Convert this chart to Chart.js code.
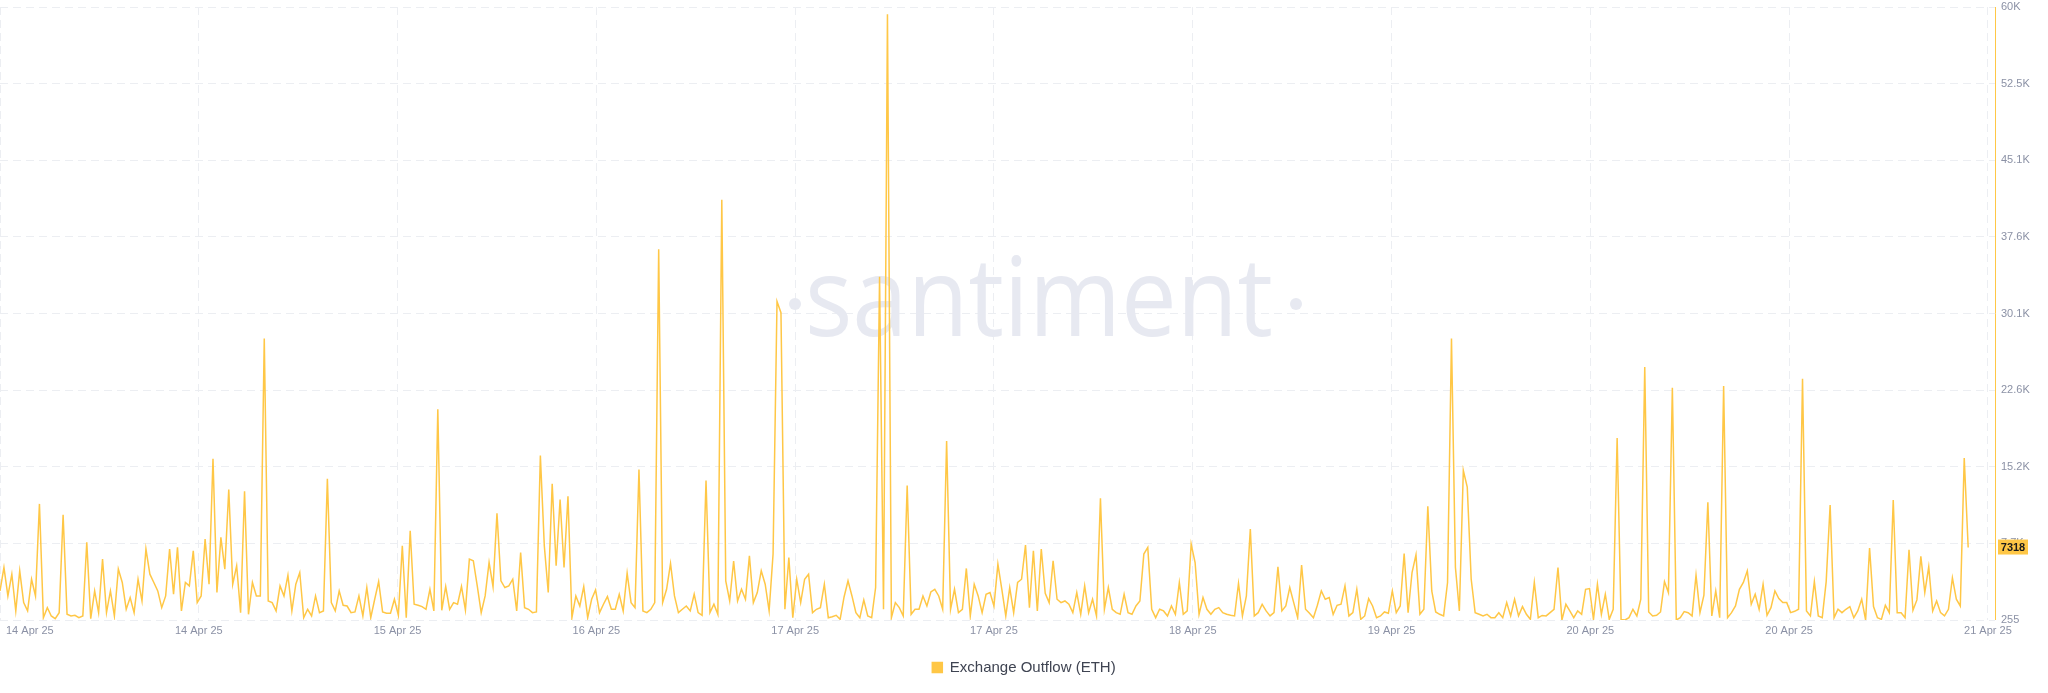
<!DOCTYPE html>
<html>
<head>
<meta charset="utf-8">
<title>Exchange Outflow (ETH)</title>
<script src="https://cdn.jsdelivr.net/npm/chart.js@4"></script>
<style>
    html, body { margin: 0; padding: 0; background: #ffffff; }
    #wrap { position: relative; width: 2048px; height: 693px; }
</style>
</head>
<body>
<div id="wrap"><canvas id="outflow-chart"></canvas></div>
<script>
// 20-minute samples, 14 Apr 25 -> 21 Apr 25
const outflow = [
    3090, 5370, 2600, 4720, 1140, 5050, 1950, 1140, 4230, 2600,
    11570, 480, 1460, 650, 390, 970, 10520, 810, 650, 710,
    480, 650, 7820, 390, 3090, 970, 6190, 970, 3090, 650,
    5210, 3910, 1300, 2440, 970, 4230, 2110, 7170, 4720, 3910,
    3090, 1460, 2600, 7170, 2765, 7330, 1140, 3910, 3580, 7000,
    1950, 2600, 8140, 3740, 15970, 2930, 8310, 5210, 12970, 3740,
    5540, 970, 12810, 810, 3910, 2600, 2600, 27680, 2110, 1950,
    1140, 3580, 2600, 4620, 1140, 3740, 4880, 480, 1300, 650,
    2600, 970, 1140, 14010, 1950, 1140, 3090, 1690, 1620, 970,
    1040, 2600, 650, 3420, 480, 2280, 4000, 1040, 910, 910,
    2280, 710, 7490, 480, 8960, 1790, 1690, 1560, 1300, 3250,
    1140, 20790, 1200, 3520, 1300, 1950, 1790, 3520, 1230, 6190,
    6030, 3580, 970, 2600, 5870, 3500, 10650, 4070, 3420, 3580,
    4230, 1140, 6840, 1460, 1300, 970, 1040, 16290, 7490, 2930,
    13520, 5540, 11990, 5370, 12320, 480, 2600, 1620, 3500, 480,
    2280, 3190, 970, 1790, 2540, 1300, 1300, 2765, 1140, 4820,
    1950, 1460, 14920, 1140, 970, 1300, 1950, 36380, 1950, 3250,
    5760, 2600, 970, 1300, 1620, 1140, 2765, 970, 710, 13850,
    970, 1790, 810, 41225, 4070, 2110, 6000, 2110, 3250, 2280,
    6510, 1950, 2930, 5050, 3740, 1140, 6680, 31300, 30200, 1300,
    6350, 480, 4230, 1950, 4230, 4720, 970, 1300, 1460, 3740,
    480, 580, 710, 320, 2500, 4070, 2600, 970, 480, 2210,
    650, 480, 3420, 33700, 1300, 59300, 480, 1950, 1460, 650,
    13360, 810, 1300, 1300, 2600, 1620, 2990, 3250, 2600, 1300,
    17700, 1300, 3250, 970, 1300, 5280, 650, 3740, 2600, 970,
    2765, 2930, 1620, 5700, 3250, 650, 3420, 970, 3910, 4230,
    7560, 1460, 7000, 1140, 7170, 2860, 1950, 6030, 2280, 1950,
    2110, 1790, 970, 2930, 810, 3580, 970, 2280, 650, 12120,
    1300, 3420, 1300, 970, 810, 2765, 970, 810, 1620, 2110,
    6680, 7330, 1300, 480, 1300, 1140, 650, 1620, 810, 3910,
    810, 1140, 7660, 5860, 810, 2440, 1300, 810, 1300, 1460,
    970, 810, 710, 650, 3810, 650, 2600, 9120, 650, 970,
    1790, 1140, 650, 970, 5440, 1140, 1620, 3420, 1950, 480,
    5600, 1300, 910, 480, 1690, 3090, 2280, 2440, 810, 1690,
    1790, 3580, 650, 970, 3250, 320, 650, 2340, 1620, 480,
    650, 1040, 910, 3090, 970, 1620, 6740, 970, 4880, 6610,
    810, 1300, 11340, 3090, 1040, 810, 650, 3910, 27680, 5370,
    1140, 14830, 13200, 4230, 970, 810, 650, 810, 480, 480,
    970, 480, 1950, 650, 2280, 650, 1560, 810, 320, 3910,
    480, 700, 650, 970, 1300, 5370, 255, 1790, 1140, 480,
    1140, 810, 3250, 3320, 320, 3740, 810, 2765, 320, 1300,
    17990, 300, 255, 480, 1300, 650, 2280, 24900, 1040, 650,
    710, 1040, 4000, 2930, 22880, 255, 480, 1070, 970, 650,
    4620, 970, 2670, 11730, 650, 3090, 480, 23070, 480, 970,
    1620, 3250, 3910, 5050, 1790, 2765, 1300, 3740, 710, 1460,
    3090, 2340, 1950, 1950, 970, 1100, 1300, 23770, 1140, 650,
    4000, 650, 480, 4000, 11470, 480, 1300, 970, 1300, 1560,
    480, 1140, 2280, 255, 7270, 1560, 480, 320, 1690, 970,
    11960, 970, 970, 480, 7100, 1200, 2210, 6450, 2930, 5440,
    1140, 2110, 970, 650, 1300, 4360, 2280, 1620, 16030, 7318
];

const xTickLabels = [
    '14 Apr 25', '14 Apr 25', '15 Apr 25', '16 Apr 25', '17 Apr 25', '17 Apr 25',
    '18 Apr 25', '19 Apr 25', '20 Apr 25', '20 Apr 25', '21 Apr 25'
];
const yTickValues = [255, 7723, 15191, 22659, 30127, 37596, 45064, 52532, 60000];
const yTickLabels = ['255', '7.7K', '15.2K', '22.6K', '30.1K', '37.6K', '45.1K', '52.5K', '60K'];

const xTickStep = 50.4;   // 16.8 h of 20 min samples
const xMax = 505.8;

const lineColor = '#ffc746';
const labelColor = '#8b91a5';
const gridColor = '#eceef2';
const markColor = '#e7e9f1';
const fontFamily = '"Liberation Sans", Arial, Helvetica, sans-serif';

const ctx = document.getElementById('outflow-chart').getContext('2d');

const watermark = {
    id: 'watermark',
    beforeDatasetsDraw(chart) {
        const c = chart.ctx;
        const text = 'santiment';
        c.save();
        c.fillStyle = markColor;
        c.font = '400 110px "Open Sans", sans-serif';
        c.textBaseline = 'alphabetic';
        const w = c.measureText(text).width;
        c.translate(805, 336);
        c.scale(468 / w, 1);
        c.fillText(text, 0, 0);
        c.restore();

        c.save();
        c.fillStyle = markColor;
        for (let x of [795, 1296]) {
            c.beginPath();
            c.arc(x, 304, 6, 0, Math.PI * 2);
            c.fill();
        }
        c.restore();
    }
};

const axisExtras = {
    id: 'axisExtras',
    afterDraw(chart) {
        const c = chart.ctx;
        const area = chart.chartArea;
        const xScale = chart.scales.x;
        const yScale = chart.scales.y;

        // yellow right axis
        c.save();
        c.strokeStyle = lineColor;
        c.lineWidth = 1;
        c.beginPath();
        c.moveTo(area.right + 0.5, area.top);
        c.lineTo(area.right + 0.5, area.bottom);
        c.stroke();

        // date labels
        c.font = '11px ' + fontFamily;
        c.fillStyle = labelColor;
        c.textBaseline = 'middle';
        xScale.ticks.forEach((tick, k) => {
            const px = xScale.getPixelForValue(tick.value);
            c.textAlign = k === 0 ? 'left' : 'center';
            c.fillText(xTickLabels[k], k === 0 ? px + 6 : px, area.bottom + 11);
        });

        // last value badge
        const last = outflow[outflow.length - 1];
        const y = yScale.getPixelForValue(last);
        c.fillStyle = lineColor;
        c.fillRect(area.right + 3, y - 8, 30, 15);
        c.fillStyle = '#1b1b1b';
        c.font = 'bold 11px ' + fontFamily;
        c.textAlign = 'center';
        c.fillText(String(last), area.right + 18, y);
        c.restore();
    }
};

new Chart(ctx, {
    type: 'line',
    data: {
        datasets: [
            {
                label: 'Exchange Outflow (ETH)',
                data: outflow.map((v, i) => ({ x: i, y: v })),
                borderColor: lineColor,
                backgroundColor: lineColor,
                borderWidth: 1.5,
                pointRadius: 0,
                tension: 0
            }
        ]
    },
    options: {
        responsive: true,
        maintainAspectRatio: false,
        animation: false,
        devicePixelRatio: 1,
        layout: {
            padding: { top: 7, bottom: 8 }
        },
        scales: {
            x: {
                type: 'linear',
                min: 0,
                max: xMax,
                afterBuildTicks: (scale) => {
                    scale.ticks = xTickLabels.map((_, k) => ({ value: k * xTickStep }));
                },
                afterFit: (scale) => {
                    scale.height = 30;
                },
                ticks: { display: false },
                grid: { color: gridColor, drawTicks: false },
                border: { display: false, dash: [8, 5] }
            },
            y: {
                position: 'right',
                min: 255,
                max: 60000,
                afterBuildTicks: (scale) => {
                    scale.ticks = yTickValues.map(v => ({ value: v }));
                },
                afterFit: (scale) => {
                    scale.width = 53;
                    scale.paddingTop = 0;
                    scale.paddingBottom = 0;
                },
                ticks: {
                    color: labelColor,
                    font: { size: 11, family: fontFamily },
                    padding: 6,
                    callback: (value, index) => yTickLabels[index]
                },
                grid: { color: gridColor, drawTicks: false },
                border: { display: false, dash: [8, 5] }
            }
        },
        plugins: {
            legend: {
                position: 'bottom',
                labels: {
                    usePointStyle: true,
                    pointStyle: 'rect',
                    boxWidth: 10,
                    boxHeight: 10,
                    color: '#3f4452',
                    font: { size: 15, family: fontFamily },
                    padding: 10
                }
            },
            tooltip: { enabled: false }
        }
    },
    plugins: [watermark, axisExtras]
});
</script>
</body>
</html>
